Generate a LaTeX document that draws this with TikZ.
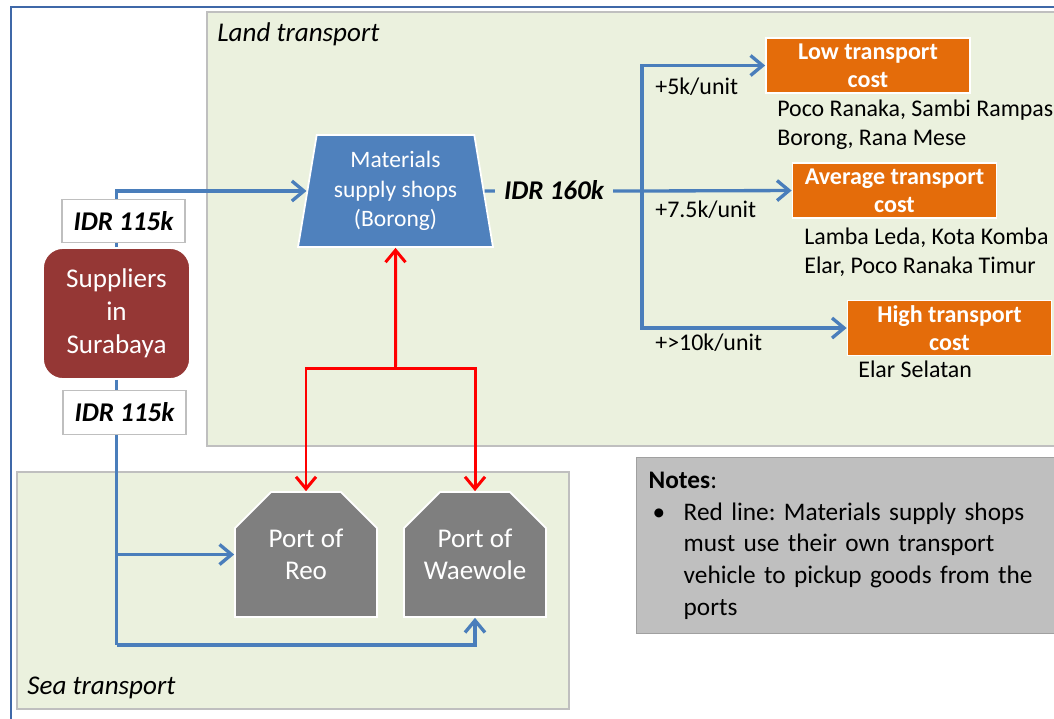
\documentclass[tikz,border=0pt]{standalone}
\usepackage{fontspec}
\setmainfont{Carlito}
\usepackage{tikz}
\usetikzlibrary{arrows.meta,positioning,shapes.geometric,shapes.misc}
\frenchspacing
\definecolor{frameblue}{HTML}{3F68A8}
\definecolor{panelgreen}{HTML}{EBF1DE}
\definecolor{panelrule}{HTML}{BFBFBF}
\definecolor{linkblue}{HTML}{4A7EBB}
\definecolor{shopblue}{HTML}{4F81BD}
\definecolor{suppred}{HTML}{953735}
\definecolor{portgrey}{HTML}{7F7F7F}
\definecolor{costorange}{HTML}{E46C0A}
\definecolor{notegrey}{HTML}{BFBFBF}
\definecolor{noterule}{HTML}{A0A0A0}
\newcommand{\placefont}{\fontsize{13.6pt}{16.4pt}\selectfont}
\newcommand{\bigfont}{\fontsize{15.4pt}{18.4pt}\selectfont}
\tikzset{
  panel/.style={draw=panelrule, line width=0.8pt, fill=panelgreen},
  flow/.style={-{Straight Barb[length=2.4mm,width=4mm]}, line width=1.9pt,
               draw=linkblue},
  plain/.style={line width=1.9pt, draw=linkblue},
  redflow/.style={-{Straight Barb[length=2.4mm,width=4mm]}, line width=1.7pt,
                  draw=red},
  price/.style={draw=panelrule, fill=white, line width=0.8pt, inner sep=0pt,
                minimum width=2.46cm, minimum height=0.87cm,
                font=\bigfont\bfseries\itshape},
  costbox/.style={draw=white, line width=1pt, fill=costorange, text=white,
                  align=center, inner sep=0pt,
                  font=\fontsize{13.7pt}{15.9pt}\selectfont\bfseries,
                  minimum width=4.08cm, minimum height=1.1cm},
  port/.style={chamfered rectangle, chamfered rectangle corners={north west,north east},
               chamfered rectangle sep=0.36cm, draw=white, line width=1pt,
               fill=portgrey, text=white, align=center, inner sep=0pt,
               font=\bigfont, minimum width=2.84cm, minimum height=2.5cm},
  place/.style={font=\placefont, align=left, anchor=north west, inner sep=0pt},
  rate/.style={font=\placefont, anchor=west, inner sep=0pt},
  tag/.style={font=\bigfont\itshape, anchor=west, inner sep=0pt},
}

\begin{document}
\begin{tikzpicture}[x=0.02cm, y=-0.02cm]
\clip (0,0) rectangle (1054,718);

% ---------------- frame and panels ---------------------------------------
\draw[frameblue, line width=1.3pt] (1080,7) -| (11,740);
\draw[panel] (207,12) rectangle (1080,446);
\draw[panel] (17,472) rectangle (569,709);
\node[tag] (landtag) at (217,34) {Land transport};
\node[tag] (seatag) at (27,688) {Sea transport};

% ---------------- nodes --------------------------------------------------
\node[draw=white, line width=1pt, fill=suppred, rounded corners=0.4cm,
      text=white, align=center, font=\fontsize{15.4pt}{18.7pt}\selectfont,
      inner sep=0pt, minimum width=2.94cm, minimum height=2.62cm]
  (sup) at (116.5,313.5) {Suppliers\\in\\Surabaya};
\node[trapezium, trapezium left angle=76.7, trapezium right angle=76.7,
      trapezium stretches body, draw=white, line width=1pt, fill=shopblue,
      text=white, align=center, inner sep=0pt,
      font=\fontsize{13.4pt}{16.7pt}\selectfont,
      minimum width=3.9cm, minimum height=2.24cm]
  (shop) at (395.5,191) {Materials\\supply shops\\(Borong)};
\node[port] (reo) at (306,554.5) {Port of\\Reo};
\node[port] (wae) at (475,554.5) {Port of\\Waewole};

\node[costbox] (low) at (868,65.5) {Low transport\\cost};
\node[costbox] (avg) at (894.5,190.5) {Average transport\\cost};
\node[costbox] (high) at (949.5,328) {High transport\\cost};

% ---------------- blue links ---------------------------------------------
\draw[flow] (sup.north) |- (shop.west);
\coordinate (seab) at (116.5,645);
\draw[plain] (sup.south) -- (seab);
\draw[flow] (seab) -| (wae.south);
\draw[flow] (sup.south |- reo.west) -- (reo.west);
\node[price] (idrup) at (123.5,221) {IDR 115k};
\node[price] (idrdown) at (124.5,412.5) {IDR 115k};

\coordinate (split) at (642,191);
\draw[plain] (shop.east) -- (split);
\draw[flow] (split) |- (low.west);
\draw[flow] (split) -- (avg.west);
\draw[flow] (split) |- (high.west);
\node[fill=panelgreen, font=\bigfont\bfseries\itshape, inner xsep=5pt,
      inner ysep=2pt] (idrmid) at (554,190) {IDR 160k};

\node[rate] (r1) at (655,87) {+5k/unit};
\node[rate] (r2) at (655,210) {+7.5k/unit};
\node[rate] (r3) at (655,343) {+>10k/unit};

\node[place] (p1) at (777,100) {Poco Ranaka, Sambi Rampas\\Borong, Rana Mese};
\node[place] (p2) at (804,228) {Lamba Leda, Kota Komba\\Elar, Poco Ranaka Timur};
\node[place] (p3) at (858,361) {Elar Selatan};

% ---------------- red links ----------------------------------------------
\coordinate (rj) at (395.5,368);
\draw[redflow] (rj) -- (shop.south);
\draw[redflow] (rj) -| (reo.north);
\draw[redflow] (rj) -| (wae.north);

% ---------------- notes --------------------------------------------------
\node[draw=noterule, line width=0.8pt, fill=notegrey, anchor=north west,
      align=left, text width=8.2cm, inner xsep=0.24cm, inner ysep=0pt,
      minimum height=3.52cm, font=\fontsize{14.4pt}{18pt}\selectfont]
  (notes) at (636,457)
  {\raggedright\textbf{Notes}:\\
   \makebox[0.7cm][l]{\hspace{0.08cm}\textbullet}Red line: Materials supply shops\\
   \hspace*{0.7cm}must use their own transport\\
   \hspace*{0.7cm}vehicle to pickup goods from the\\
   \hspace*{0.7cm}ports};
\end{tikzpicture}
\end{document}
